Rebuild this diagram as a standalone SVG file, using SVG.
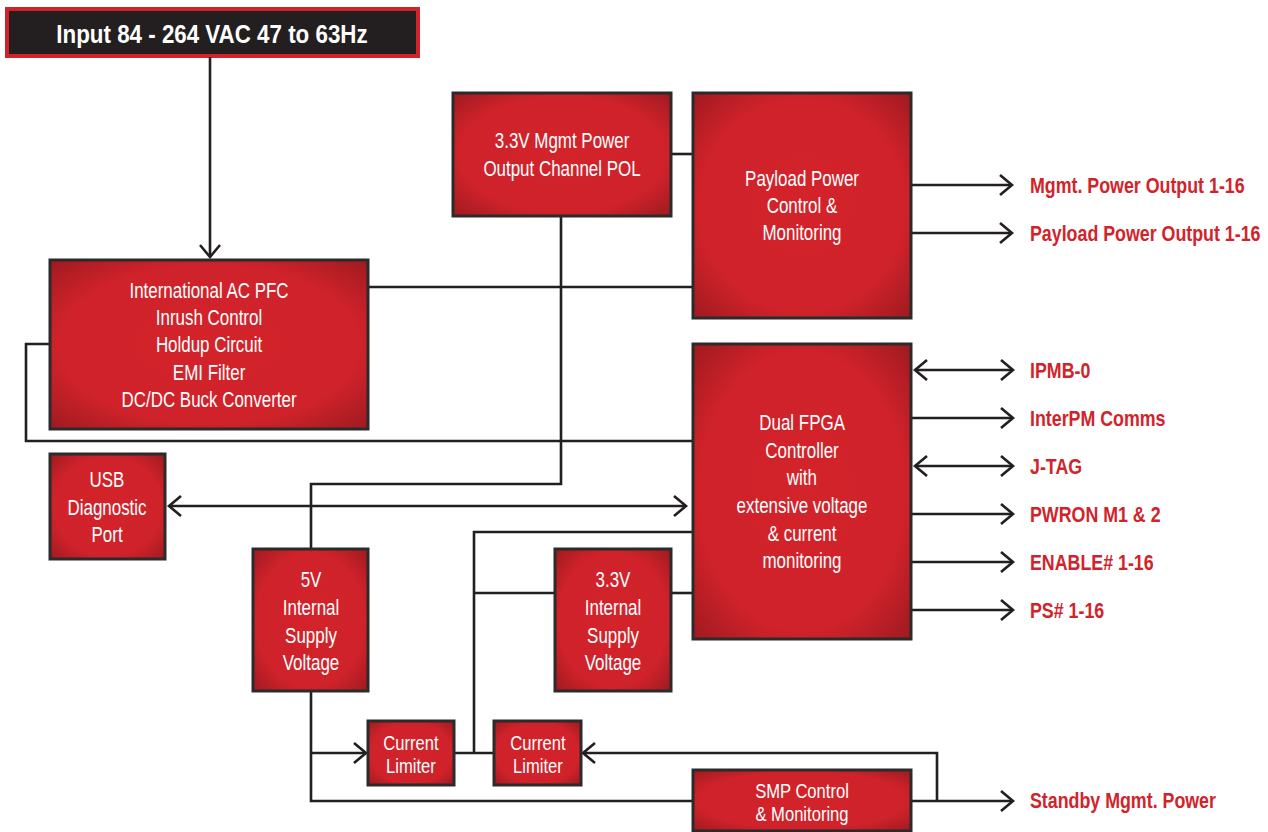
<svg xmlns="http://www.w3.org/2000/svg" width="1268" height="832" viewBox="0 0 1268 832">
<defs>
<radialGradient id="rg" cx="50%" cy="50%" r="68%">
<stop offset="0" stop-color="#d3232b"/>
<stop offset="0.7" stop-color="#cf222a"/>
<stop offset="1" stop-color="#a31b21"/>
</radialGradient>
<marker id="ah" markerUnits="userSpaceOnUse" markerWidth="30" markerHeight="30" viewBox="-15 -15 30 30" refX="0" refY="0" orient="auto-start-reverse">
<path d="M-12,-10 L0,0 L-12,10" fill="none" stroke="#231f20" stroke-width="2.6"/>
</marker>
</defs>
<style>
.box{fill:url(#rg);stroke:#2b2b2b;stroke-width:3}
.bt{font-family:"Liberation Sans",Arial,sans-serif;font-size:22px;fill:#ffffff;text-anchor:middle;transform-box:fill-box;transform-origin:center;transform:scaleX(0.77)}
.bs{font-family:"Liberation Sans",Arial,sans-serif;font-size:20px;fill:#ffffff;text-anchor:middle;transform-box:fill-box;transform-origin:center;transform:scaleX(0.83)}
.lbl{font-family:"Liberation Sans",Arial,sans-serif;font-size:22px;font-weight:bold;fill:#d2232a;transform-box:fill-box;transform-origin:left center;transform:scaleX(0.81)}
.title{font-family:"Liberation Sans",Arial,sans-serif;font-size:26px;font-weight:bold;fill:#ffffff;text-anchor:middle;transform-box:fill-box;transform-origin:center;transform:scaleX(0.86)}
.c{fill:none;stroke:#231f20;stroke-width:2.6}
</style>
<rect width="1268" height="832" fill="#ffffff"/>

<g id="input">
<rect x="7" y="9" width="411" height="47" fill="#231f20" stroke="#d2232a" stroke-width="4"/>
<text class="title" x="212" y="43">Input 84 - 264 VAC 47 to 63Hz</text>
</g>

<g id="connectors">
<path class="c" d="M210,57 V257" marker-end="url(#ah)"/>
<path class="c" d="M368,287 H693"/>
<path class="c" d="M671,154 H693"/>
<path class="c" d="M561,216 V484 H311 V549"/>
<path class="c" d="M50,344 H26 V441 H692"/>
<path class="c" d="M169,506 H686" marker-start="url(#ah)" marker-end="url(#ah)"/>
<path class="c" d="M311,691 V801 H692"/>
<path class="c" d="M311,753 H366" marker-end="url(#ah)"/>
<path class="c" d="M454,753 H494"/>
<path class="c" d="M474,753 V532 H692"/>
<path class="c" d="M474,593 H555"/>
<path class="c" d="M671,593 H692"/>
<path class="c" d="M912,801 H1013" marker-end="url(#ah)"/>
<path class="c" d="M937,801 V753 H583" marker-end="url(#ah)"/>
<path class="c" d="M911,185 H1012" marker-end="url(#ah)"/>
<path class="c" d="M911,233 H1012" marker-end="url(#ah)"/>
<path class="c" d="M915,370 H1013" marker-start="url(#ah)" marker-end="url(#ah)"/>
<path class="c" d="M912,418 H1013" marker-end="url(#ah)"/>
<path class="c" d="M915,466 H1013" marker-start="url(#ah)" marker-end="url(#ah)"/>
<path class="c" d="M912,514 H1013" marker-end="url(#ah)"/>
<path class="c" d="M912,562 H1013" marker-end="url(#ah)"/>
<path class="c" d="M912,610 H1013" marker-end="url(#ah)"/>
</g>

<g id="pfc">
<rect class="box" x="50" y="260" width="318" height="169"/>
<text class="bt" x="209" y="298">International AC PFC</text>
<text class="bt" x="209" y="325">Inrush Control</text>
<text class="bt" x="209" y="352">Holdup Circuit</text>
<text class="bt" x="209" y="380">EMI Filter</text>
<text class="bt" x="209" y="407">DC/DC Buck Converter</text>
</g>

<g id="mgmt-pol">
<rect class="box" x="453" y="93" width="218" height="123"/>
<text class="bt" x="562" y="148">3.3V Mgmt Power</text>
<text class="bt" x="562" y="176">Output Channel POL</text>
</g>

<g id="payload">
<rect class="box" x="693" y="93" width="218" height="225"/>
<text class="bt" x="802" y="186">Payload Power</text>
<text class="bt" x="802" y="213">Control &amp;</text>
<text class="bt" x="802" y="240">Monitoring</text>
</g>

<g id="usb">
<rect class="box" x="50" y="454" width="115" height="105"/>
<text class="bt" x="107" y="487">USB</text>
<text class="bt" x="107" y="515">Diagnostic</text>
<text class="bt" x="107" y="542">Port</text>
</g>

<g id="fpga">
<rect class="box" x="693" y="344" width="218" height="295"/>
<text class="bt" x="802" y="430">Dual FPGA</text>
<text class="bt" x="802" y="458">Controller</text>
<text class="bt" x="802" y="485">with</text>
<text class="bt" x="802" y="513">extensive voltage</text>
<text class="bt" x="802" y="541">&amp; current</text>
<text class="bt" x="802" y="568">monitoring</text>
</g>

<g id="v5">
<rect class="box" x="253" y="549" width="115" height="142"/>
<text class="bt" x="311" y="587">5V</text>
<text class="bt" x="311" y="615">Internal</text>
<text class="bt" x="311" y="643">Supply</text>
<text class="bt" x="311" y="670">Voltage</text>
</g>

<g id="v33">
<rect class="box" x="555" y="549" width="116" height="142"/>
<text class="bt" x="613" y="587">3.3V</text>
<text class="bt" x="613" y="615">Internal</text>
<text class="bt" x="613" y="643">Supply</text>
<text class="bt" x="613" y="670">Voltage</text>
</g>

<g id="cl1">
<rect class="box" x="368" y="721" width="86" height="64"/>
<text class="bs" x="411" y="750">Current</text>
<text class="bs" x="411" y="773">Limiter</text>
</g>

<g id="cl2">
<rect class="box" x="494" y="721" width="87" height="64"/>
<text class="bs" x="538" y="750">Current</text>
<text class="bs" x="538" y="773">Limiter</text>
</g>

<g id="smp">
<rect class="box" x="693" y="770" width="218" height="61"/>
<text class="bs" x="802" y="798">SMP Control</text>
<text class="bs" x="802" y="821">&amp; Monitoring</text>
</g>

<g id="labels">
<text class="lbl" x="1030" y="193">Mgmt. Power Output 1-16</text>
<text class="lbl" x="1030" y="241">Payload Power Output 1-16</text>
<text class="lbl" x="1030" y="378">IPMB-0</text>
<text class="lbl" x="1030" y="426">InterPM Comms</text>
<text class="lbl" x="1030" y="474">J-TAG</text>
<text class="lbl" x="1030" y="522">PWRON M1 &amp; 2</text>
<text class="lbl" x="1030" y="570">ENABLE# 1-16</text>
<text class="lbl" x="1030" y="618">PS# 1-16</text>
<text class="lbl" x="1030" y="808">Standby Mgmt. Power</text>
</g>
</svg>
